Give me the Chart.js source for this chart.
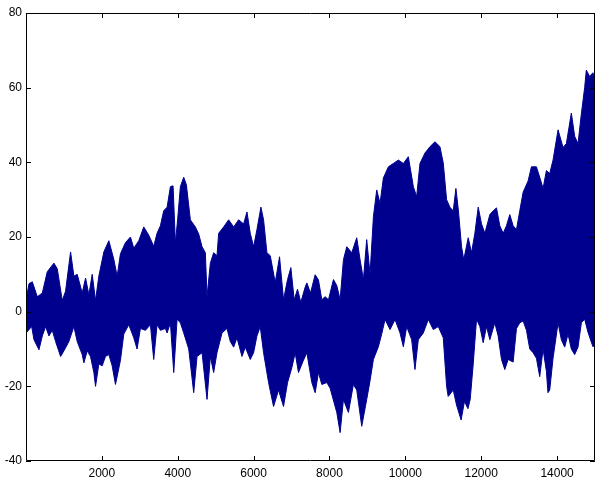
<!DOCTYPE html>
<html>
<head>
<meta charset="utf-8">
<script src="https://cdn.jsdelivr.net/npm/chart.js@4"></script>
<style>
  html, body { margin: 0; padding: 0; background: #fff; }
  #wrap { width: 600px; height: 481px; }
</style>
</head>
<body>
<div id="wrap"><canvas id="signalChart" width="600" height="481"></canvas></div>
<script>
// upper edge of the signal band (x, value)
const upperX = [0, 79, 166, 298, 430, 561, 736, 824, 956, 1043, 1175, 1263, 1350, 1482, 1570, 1658, 1745, 1833, 1920, 2052, 2184, 2315, 2403, 2490, 2622, 2754, 2841, 2973, 3104, 3236, 3367, 3455, 3543, 3630, 3720, 3807, 3877, 3939, 4000, 4070, 4158, 4228, 4333, 4465, 4553, 4641, 4728, 4772, 4860, 4947, 5035, 5079, 5210, 5342, 5474, 5606, 5737, 5825, 5912, 6000, 6088, 6193, 6263, 6351, 6439, 6570, 6684, 6789, 6895, 6982, 7070, 7158, 7245, 7360, 7404, 7500, 7623, 7710, 7798, 7886, 7974, 8105, 8193, 8281, 8368, 8456, 8588, 8719, 8807, 8895, 8982, 9070, 9158, 9246, 9333, 9421, 9553, 9684, 9816, 9948, 10079, 10211, 10298, 10386, 10518, 10649, 10781, 10912, 11000, 11088, 11175, 11263, 11333, 11400, 11482, 11540, 11658, 11745, 11833, 11921, 12009, 12097, 12228, 12316, 12403, 12491, 12579, 12666, 12754, 12842, 12930, 13017, 13105, 13236, 13324, 13456, 13543, 13631, 13719, 13806, 13894, 14026, 14157, 14245, 14376, 14464, 14552, 14640, 14727, 14771, 14859, 14946, 15000];
const upperY = [3, 7.5, 8, 4, 5, 10.7, 13, 11.5, 3, 5.5, 16, 9.5, 10, 5, 9, 4.5, 10, 3, 9.5, 16, 19, 14, 9.5, 15.5, 18.5, 20, 17, 19, 22.7, 20.5, 17.5, 21, 23, 27, 28, 33.5, 33.7, 18.4, 25, 33.5, 36, 34, 24.6, 22.7, 20.8, 17.4, 15.8, 4, 13, 15.8, 15, 21, 22.7, 24.6, 22.7, 24.6, 23.5, 26.7, 21, 17.4, 22, 28, 24.6, 15.8, 15, 7.8, 14.7, 3.2, 8.6, 11.8, 3.2, 6, 2.5, 6.6, 7.7, 5, 9.9, 8.5, 3.2, 4, 3.2, 8.6, 7, 3.2, 13.9, 17.4, 15.8, 19.8, 13.9, 8.6, 19.3, 10, 25.4, 32.6, 29, 35.8, 38.8, 39.7, 40.6, 39.7, 41.5, 33.5, 30.8, 39.7, 42.5, 44.2, 45.5, 44.2, 39.8, 30, 28, 27, 33, 27, 17.4, 13.9, 19.8, 15.8, 21, 28, 23.5, 21, 26, 27, 27.8, 23, 21, 23, 26, 23, 22, 27, 32, 35, 38.8, 38.8, 36, 33, 37.8, 37, 40.6, 48.7, 44, 45, 53.2, 47, 45, 53, 60, 64.7, 63, 64, 62];

// lower edge of the signal band
const lowerX = [0, 150, 210, 342, 430, 517, 605, 693, 780, 912, 1000, 1131, 1263, 1350, 1482, 1526, 1614, 1700, 1789, 1833, 1920, 2008, 2096, 2184, 2271, 2359, 2490, 2578, 2710, 2841, 2929, 3016, 3148, 3280, 3367, 3455, 3543, 3675, 3720, 3807, 3895, 3983, 4070, 4158, 4290, 4421, 4509, 4641, 4772, 4860, 4947, 5035, 5167, 5298, 5386, 5474, 5562, 5693, 5781, 5912, 6000, 6088, 6175, 6263, 6395, 6526, 6658, 6789, 6895, 7008, 7096, 7183, 7315, 7404, 7535, 7623, 7710, 7798, 7930, 8017, 8193, 8281, 8368, 8500, 8631, 8719, 8851, 8982, 9070, 9158, 9289, 9377, 9465, 9597, 9728, 9860, 9948, 10036, 10167, 10254, 10342, 10474, 10605, 10737, 10868, 11000, 11088, 11130, 11263, 11350, 11470, 11560, 11650, 11710, 11790, 11877, 11965, 12052, 12140, 12228, 12359, 12447, 12535, 12622, 12710, 12842, 12930, 13017, 13105, 13193, 13280, 13368, 13456, 13543, 13631, 13719, 13760, 13806, 13894, 14026, 14113, 14201, 14289, 14376, 14464, 14552, 14640, 14727, 14815, 14946, 15000];
const lowerY = [-5.7, -4, -7.5, -10.2, -6.5, -4, -6.5, -5, -8, -12, -10.5, -8, -4, -8, -11.5, -13.7, -10.5, -12, -16.3, -20, -14, -14.5, -12, -11.5, -14.5, -19.5, -13, -6, -3.5, -7, -10, -4.5, -5, -3.5, -12.8, -3.5, -5, -4.5, -5.7, -3, -16.3, -2, -3, -5.7, -10, -21.7, -12, -11, -23.5, -12, -16.3, -11, -5.7, -4.5, -8, -9.5, -7, -12, -9.5, -12.8, -11, -6.5, -4, -11, -19, -25.4, -21, -25.4, -19, -15, -11, -16.3, -13, -11, -19, -21.7, -16.3, -19.5, -19, -20.5, -27, -32.4, -23.5, -27, -19.5, -21, -30.7, -23.5, -18.5, -12.8, -9.4, -6, -2.1, -4.8, -2.1, -5.7, -9.4, -4, -7.5, -15.5, -7.5, -5.7, -2.1, -4.8, -4, -7, -20, -22.7, -21, -25, -29, -24, -26, -23.5, -14, -2, -4, -8.3, -4, -7.5, -3, -6.5, -12.8, -15.5, -12.8, -13.5, -4.5, -3, -2.5, -5, -10, -11, -12.5, -17.4, -10, -16, -21.7, -21, -12.5, -3, -7.5, -9.5, -6, -10, -11.5, -9.5, -3, -2, -5.5, -9.4, -9];

const xTicks = [2000, 4000, 6000, 8000, 10000, 12000, 14000];
const yTicks = [-40, -20, 0, 20, 40, 60, 80];

const navy = '#00008f';

function toPoints(xs, ys) {
    return xs.map((x, i) => ({ x: x, y: ys[i] }));
}

// box round the plot with inward ticks, matlab style
const boxPlugin = {
    id: 'matlabBox',
    afterDatasetsDraw(chart) {
        const c = chart.ctx;
        const a = chart.chartArea;
        const xs = chart.scales.x;
        const ys = chart.scales.y;
        const len = 5;
        c.save();
        c.strokeStyle = '#000000';
        c.lineWidth = 1;
        c.beginPath();
        c.moveTo(a.left + 0.5, a.top + 0.5);
        c.lineTo(a.right - 0.5, a.top + 0.5);
        c.lineTo(a.right - 0.5, a.bottom - 0.5);
        c.lineTo(a.left + 0.5, a.bottom - 0.5);
        c.closePath();
        xTicks.forEach(v => {
            const px = Math.round(xs.getPixelForValue(v)) + 0.5;
            c.moveTo(px, a.bottom);
            c.lineTo(px, a.bottom - len);
            c.moveTo(px, a.top);
            c.lineTo(px, a.top + len);
        });
        yTicks.forEach(v => {
            const py = Math.round(ys.getPixelForValue(v)) + 0.5;
            c.moveTo(a.left, py);
            c.lineTo(a.left + len, py);
            c.moveTo(a.right, py);
            c.lineTo(a.right - len, py);
        });
        c.stroke();
        c.restore();
    }
};

const tickFont = { family: 'Liberation Sans', size: 12 };

const chartCtx = document.getElementById('signalChart').getContext('2d');
new Chart(chartCtx, {
    type: 'line',
    data: {
        datasets: [{
            data: toPoints(upperX, upperY),
            borderColor: navy,
            backgroundColor: navy,
            borderWidth: 1,
            pointRadius: 0,
            fill: { value: -1 },
        }, {
            data: toPoints(lowerX, lowerY),
            borderColor: navy,
            backgroundColor: navy,
            borderWidth: 1,
            pointRadius: 0,
            fill: { value: 1 },
        }],
    },
    options: {
        responsive: false,
        animation: false,
        layout: { padding: { top: 13, right: 5, left: 0, bottom: 0 } },
        plugins: {
            legend: { display: false },
            tooltip: { enabled: false },
        },
        scales: {
            x: {
                type: 'linear',
                min: 0,
                max: 15000,
                grid: { display: false, drawTicks: false },
                border: { display: false },
                afterBuildTicks: scale => { scale.ticks = xTicks.map(v => ({ value: v })); },
                afterFit: scale => { scale.height = 20; },
                ticks: {
                    padding: 5,
                    color: '#000',
                    maxRotation: 0,
                    font: tickFont,
                    callback: v => String(v),
                },
            },
            y: {
                min: -40,
                max: 80,
                grid: { display: false, drawTicks: false },
                border: { display: false },
                afterBuildTicks: scale => { scale.ticks = yTicks.map(v => ({ value: v })); },
                afterFit: scale => { scale.width = 26; },
                ticks: {
                    padding: 4,
                    color: '#000',
                    font: tickFont,
                    callback: v => String(v),
                },
            },
        },
    },
    plugins: [boxPlugin],
});
</script>
</body>
</html>
